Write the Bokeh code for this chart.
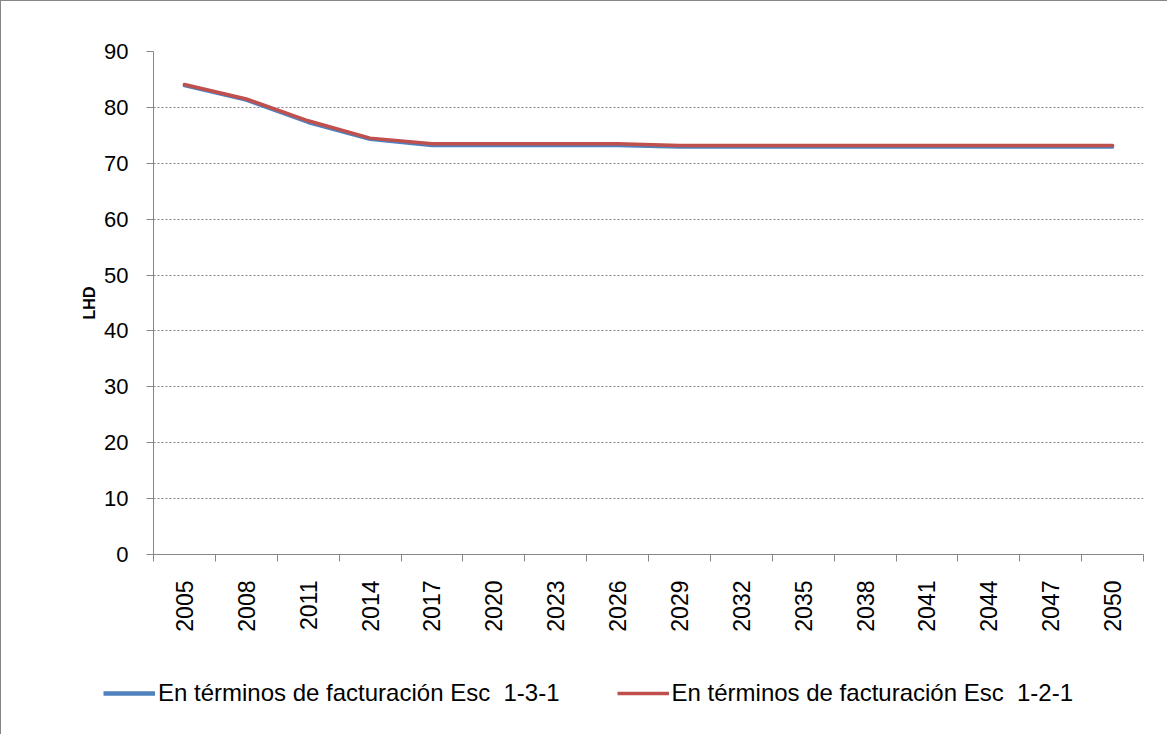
from bokeh.plotting import figure
from bokeh.models import (Range1d, FixedTicker, Legend, LegendItem, CustomJSTickFormatter)
from bokeh.layouts import column
from bokeh.embed import file_html
from bokeh.resources import INLINE
from math import pi

years = [2005, 2008, 2011, 2014, 2017, 2020, 2023, 2026, 2029, 2032, 2035, 2038, 2041, 2044, 2047, 2050]
esc_131 = [83.9, 81.3, 77.3, 74.3, 73.2, 73.2, 73.2, 73.2, 72.9, 72.9, 72.9, 72.9, 72.9, 72.9, 72.9, 72.9]
esc_121 = [84.1, 81.5, 77.6, 74.5, 73.5, 73.5, 73.5, 73.5, 73.2, 73.2, 73.2, 73.2, 73.2, 73.2, 73.2, 73.2]
name_131 = "En términos de facturación Esc  1-3-1"
name_121 = "En términos de facturación Esc  1-2-1"
y_ticks = [0, 10, 20, 30, 40, 50, 60, 70, 80, 90]

FONT = "Liberation Sans"
AXIS_GRAY = "#868686"
BLUE = "#4F81BD"
RED = "#C0504D"
LINE_W = 3.5

step = years[1] - years[0]
x_start = years[0] - step / 2
x_end = years[-1] + step / 2
boundaries = [x_start + step * i for i in range(len(years) + 1)]

W = 1166
H_MAIN = 660
H_LEG = 73

p = figure(width=W, height=H_MAIN, output_backend="svg", toolbar_location=None,
           x_range=Range1d(x_start, x_end), y_range=Range1d(0, 90),
           min_border_left=152, min_border_right=W - 1142, min_border_top=50,
           min_border_bottom=H_MAIN - 553)
p.outline_line_color = None
p.background_fill_color = "white"
p.border_fill_color = "white"

p.line(years, esc_131, line_color=BLUE, line_width=LINE_W, line_join="round", line_cap="round")
p.line(years, esc_121, line_color=RED, line_width=LINE_W, line_join="round", line_cap="round")

# x axis: labels centred in each category, tick marks on the boundaries
p.xaxis.ticker = FixedTicker(ticks=years, minor_ticks=boundaries)
p.xaxis.formatter = CustomJSTickFormatter(code="return String(Math.round(tick));")
p.xaxis.major_tick_line_color = None
p.xaxis.minor_tick_line_color = AXIS_GRAY
p.xaxis.minor_tick_in = 0
p.xaxis.minor_tick_out = 7
p.xaxis.axis_line_color = AXIS_GRAY
p.xaxis.major_label_orientation = pi / 2
p.xaxis.major_label_standoff = 19
p.xaxis.major_label_text_font = FONT
p.xaxis.major_label_text_font_size = "23px"
p.xaxis.major_label_text_color = "black"

# y axis
p.yaxis.ticker = FixedTicker(ticks=y_ticks)
p.yaxis.axis_line_color = AXIS_GRAY
p.yaxis.major_tick_line_color = AXIS_GRAY
p.yaxis.major_tick_in = 0
p.yaxis.major_tick_out = 7
p.yaxis.minor_tick_line_color = None
p.yaxis.major_label_standoff = 18
p.yaxis.major_label_text_font = FONT
p.yaxis.major_label_text_font_size = "22px"
p.yaxis.major_label_text_color = "black"
p.yaxis.axis_label = "LHD"
p.yaxis.axis_label_text_font = FONT
p.yaxis.axis_label_text_font_style = "bold"
p.yaxis.axis_label_text_font_size = "16px"
p.yaxis.axis_label_standoff = 3
p.yaxis.axis_label_text_color = "black"

p.xgrid.grid_line_color = None
p.ygrid.grid_line_color = AXIS_GRAY
p.ygrid.grid_line_dash = "2 2"
p.ygrid.grid_line_width = 1

# legend strip below the chart (its own plot so the legend is not clipped);
# its frame is aligned with the chart's, so the strip is shifted left 50px
pl = figure(width=W, height=H_LEG, output_backend="svg", toolbar_location=None,
            x_range=Range1d(0, 1), y_range=Range1d(0, 1),
            x_axis_location=None, y_axis_location=None,
            min_border=0, min_border_left=0, min_border_right=0,
            min_border_top=0, min_border_bottom=0)
pl.grid.grid_line_color = None
pl.outline_line_color = None
pl.border_fill_alpha = 0
pl.background_fill_alpha = 0
pl.styles = {"transform": "translateX(-50px)"}
lb = pl.line(years, esc_131, line_color=BLUE, line_width=LINE_W + 1)
lr = pl.line(years, esc_121, line_color=RED, line_width=LINE_W)

legend = Legend(items=[LegendItem(label=name_131, renderers=[lb]),
                       LegendItem(label=name_121, renderers=[lr])],
                location=(0, 27), orientation="horizontal")
legend.padding = 0
legend.margin = 0
legend.spacing = 57
legend.border_line_color = None
legend.background_fill_alpha = 0
legend.glyph_width = 52
legend.glyph_height = 24
legend.label_standoff = 3
legend.label_text_font = FONT
legend.label_text_font_size = "24px"
legend.label_text_color = "black"
legend.label_height = 24
pl.add_layout(legend)

layout = column(p, pl, spacing=0)
layout.styles = {"border-top": "1px solid #868686", "border-left": "1px solid #868686"}

open("out.html", "w").write(file_html(layout, INLINE))
